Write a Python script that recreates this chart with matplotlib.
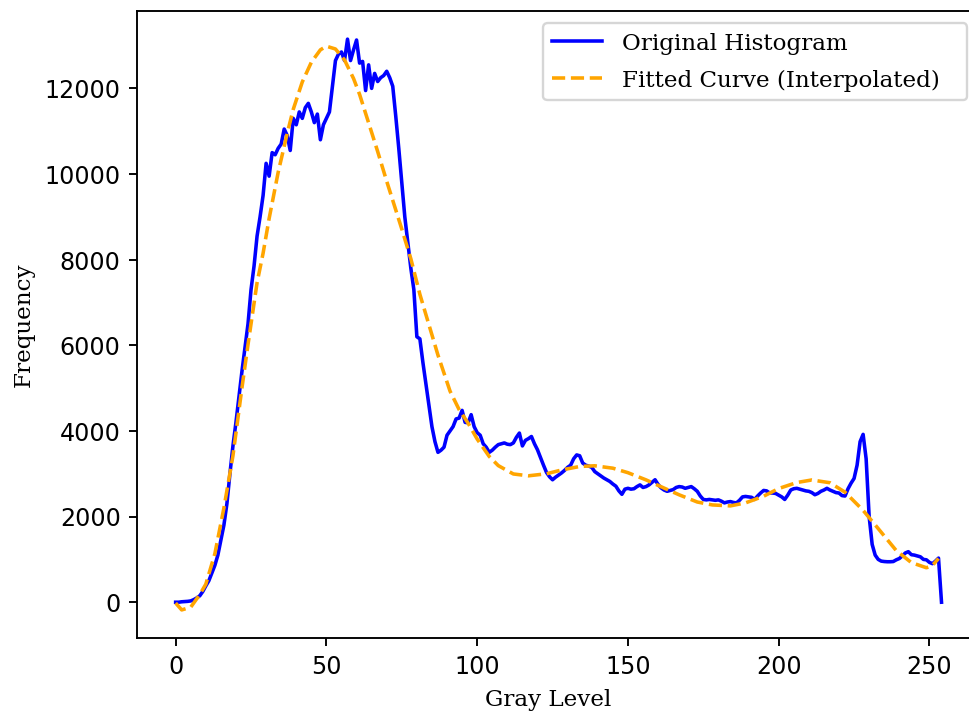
import matplotlib
matplotlib.use("Agg")
import matplotlib.pyplot as plt
import numpy as np

# Histograma original (niveles 0..254)
hist_values = [
    0, 0, 10, 15, 20, 30, 60, 100, 150, 250,
    380, 500, 680, 860, 1100, 1450, 1800, 2300, 3000, 3650,
    4200, 4800, 5400, 5950, 6500, 7300, 7850, 8550, 9000, 9500,
    10250, 9950, 10500, 10450, 10600, 10700, 11050, 10900, 10550, 11300,
    11150, 11450, 11300, 11550, 11650, 11450, 11200, 11400, 10800, 11150,
    11300, 11450, 12050, 12650, 12800, 12850, 12650, 13150, 12650, 12900,
    13130, 12590, 12630, 11950, 12550, 12000, 12350, 12160, 12250, 12300,
    12400, 12250, 12050, 11350, 10600, 9800, 9000, 8400, 7800, 7300,
    6200, 6150, 5600, 5100, 4600, 4100, 3750, 3500, 3550, 3620,
    3900, 4000, 4100, 4280, 4300, 4480, 4200, 4190, 4380, 4100,
    3960, 3900, 3700, 3620, 3500, 3550, 3620, 3680, 3700, 3720,
    3690, 3680, 3720, 3850, 3950, 3650, 3780, 3820, 3870, 3700,
    3560, 3380, 3200, 3030, 2930, 2860, 2920, 2970, 3020, 3080,
    3150, 3200, 3350, 3440, 3420, 3250, 3200, 3180, 3150, 3050,
    3000, 2950, 2900, 2860, 2820, 2760, 2710, 2600, 2520, 2640,
    2660, 2640, 2650, 2700, 2740, 2680, 2700, 2740, 2800, 2860,
    2750, 2670, 2620, 2590, 2610, 2630, 2680, 2700, 2690, 2660,
    2680, 2700, 2650, 2590, 2480, 2400, 2390, 2400, 2390, 2380,
    2390, 2360, 2320, 2340, 2350, 2330, 2320, 2380, 2460, 2470,
    2460, 2450, 2400, 2480, 2550, 2610, 2600, 2550, 2550, 2540,
    2500, 2460, 2400, 2500, 2620, 2650, 2660, 2640, 2620, 2600,
    2590, 2560, 2510, 2540, 2590, 2620, 2660, 2620, 2590, 2560,
    2550, 2490, 2480, 2650, 2780, 2890, 3200, 3750, 3920, 3350,
    2000, 1350, 1100, 1000, 960, 950, 945, 945, 950, 990,
    1020, 1080, 1150, 1180, 1110, 1100, 1080, 1060, 1000, 990,
    930, 900, 960, 1030, 0,
]
gray_levels = np.arange(len(hist_values))

# Curva ajustada (interpolada)
fit_x = [0, 2, 5, 8, 10, 13, 16, 19, 22, 24, 27, 29, 31, 34, 37, 39, 42, 45,
         48, 50, 53, 56, 59, 61, 64, 67, 70, 72, 75, 78, 81, 84, 87, 91, 94,
         97, 100, 104, 107, 112, 117, 123, 128, 134, 139, 145, 150, 156, 162,
         167, 173, 178, 184, 189, 195, 200, 206, 211, 217, 222, 228, 233, 239,
         244, 249, 251, 253]
fit_y = [-20, -180, -117, 180, 420, 1130, 2200, 3420, 5013, 6020, 7460, 8150,
         8960, 10040, 10950, 11510, 12150, 12610, 12900, 12985, 12920, 12665,
         12230, 11860, 11195, 10526, 9830, 9385, 8715, 8021, 7190, 6480, 5770,
         4930, 4500, 4180, 3810, 3404, 3190, 2995, 2952, 3000, 3088, 3170,
         3186, 3130, 3025, 2857, 2665, 2508, 2340, 2272, 2250, 2320, 2475,
         2655, 2795, 2855, 2790, 2570, 2145, 1720, 1205, 925, 805, 860, 1020]

label_font = "DejaVu Serif"
label_size = 9.7

fig = plt.figure(figsize=(969.4 / 171, 715.4 / 171), dpi=171)
ax = fig.add_axes([137.3 / 969, 76.5 / 715, (979.4 - 137.3) / 969, 627.5 / 715])

ax.plot(gray_levels, hist_values, color="blue", lw=1.5, label="Original Histogram")
ax.plot(fit_x, fit_y, color="orange", lw=1.5, linestyle="--",
        label="Fitted Curve (Interpolated)")

ax.spines["right"].set_visible(False)
ax.set_xticks([0, 50, 100, 150, 200, 250])
ax.set_xlabel("Gray Level", family=label_font, fontsize=label_size)
ax.set_ylabel("Frequency", family=label_font, fontsize=label_size)
ax.xaxis.label.set_x(0.4877)

# caja de la leyenda: x 543..967 px, borde superior en y=23 px
leg_box = (543 / 969, 1 - 101.7 / 715, (967 - 543) / 969, (101.7 - 23.3) / 715)
ax.legend(loc="upper left", bbox_to_anchor=leg_box, mode="expand",
          bbox_transform=fig.transFigure, borderaxespad=0,
          prop={"family": label_font, "size": label_size},
          handlelength=2.17, handletextpad=0.87, labelspacing=0.65)

fig.savefig("out.png", dpi=171)
